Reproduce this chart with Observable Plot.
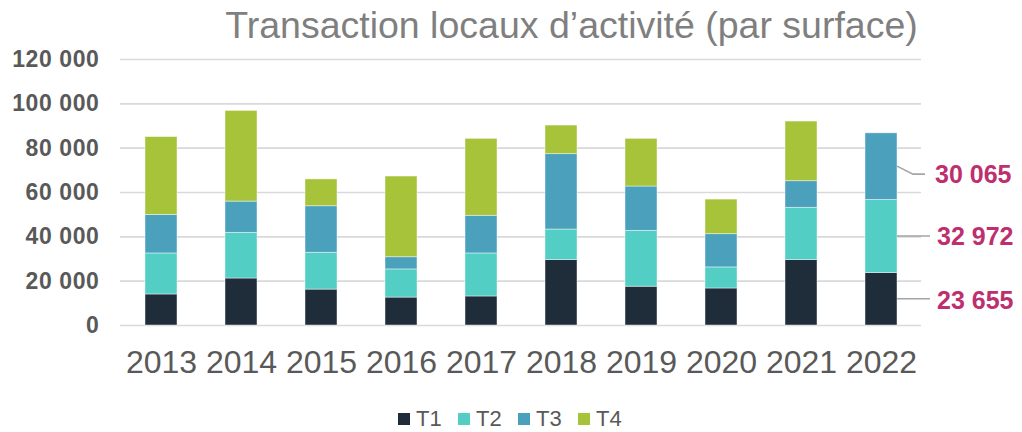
<!DOCTYPE html>
<html>
<head>
<meta charset="utf-8">
<script src="https://cdn.jsdelivr.net/npm/d3@7"></script>
<script src="https://cdn.jsdelivr.net/npm/@observablehq/plot@0.6"></script>
<style>
  html, body { margin: 0; padding: 0; background: #fff; }
  #wrap { position: relative; width: 1022px; height: 432px; overflow: hidden; font-family: "Liberation Sans", Arial, sans-serif; }
  #title { position: absolute; top: 3px; left: 0; width: 1143px; text-align: center; font-size: 37.5px; color: #7f7f7f; line-height: 44px; white-space: nowrap; }
  #chart { position: absolute; top: 44px; left: 0; }
  #legend { position: absolute; top: 406px; left: 0; width: 1022px; height: 26px; }
  .li { position: absolute; top: 0; display: flex; align-items: center; height: 26px; font-size: 22px; color: #595959; }
  .sw { width: 12px; height: 12px; margin-right: 6px; }
</style>
</head>
<body>
<div id="wrap">
  <div id="title">Transaction locaux d’activité (par surface)</div>
  <div id="chart"></div>
  <div id="legend"></div>
</div>
<script>
const years = ["2013","2014","2015","2016","2017","2018","2019","2020","2021","2022"];
const series = ["T1","T2","T3","T4"];
const colors = ["#1f2d3a","#53cec5","#4ba1bb","#a6c33a"];
const T1 = [14000, 21200, 16200, 12600, 13100, 29500, 17500, 16700, 29500, 23655];
const T2 = [18500, 20600, 16600, 12700, 19400, 13800, 25200,  9500, 23600, 32972];
const T3 = [17400, 14100, 21000,  5500, 17000, 34000, 20000, 15000, 12000, 30065];
const T4 = [35100, 40900, 12100, 36400, 34700, 12900, 21500, 15600, 26900,     0];
const yTicks = [0, 20000, 40000, 60000, 80000, 100000, 120000];

const seriesValues = {T1, T2, T3, T4};
const rows = [];
series.forEach(s => years.forEach((y, i) => rows.push({year: y, serie: s, value: seriesValues[s][i]})));

const fmt = d => d3.format(",")(d).replace(/,/g, " ");

const last = years.length - 1;
const mid1 = T1[last] / 2;
const mid2 = T1[last] + T2[last] / 2;
const mid3 = T1[last] + T2[last] + T3[last] / 2;
const annot = [
  {year: years[last], y: mid3, label: fmt(T3[last]), dx: 54, dy: 8},
  {year: years[last], y: mid2, label: fmt(T2[last]), dx: 56, dy: 0},
  {year: years[last], y: mid1, label: fmt(T1[last]), dx: 56, dy: 1}
];

const plot = Plot.plot({
  width: 1022,
  height: 346,
  marginLeft: 120,
  marginRight: 101,
  marginTop: 15,
  marginBottom: 65,
  style: {fontFamily: "'Liberation Sans', Arial, sans-serif", color: "#595959", background: "transparent"},
  x: {domain: years, paddingInner: 0.6, paddingOuter: 0.3, label: null},
  y: {domain: [0, 120000], label: null},
  color: {domain: series, range: colors},
  marks: [
    Plot.gridY(yTicks, {stroke: "#d9d9d9", strokeOpacity: 1, strokeWidth: 1.6}),
    Plot.barY(rows, {x: "year", y: "value", fill: "serie", stroke: "#ffffff", strokeOpacity: 0.55, strokeWidth: 0.8, inset: 0}),
    Plot.axisY(yTicks, {tickSize: 0, tickPadding: 21, tickFormat: fmt, fontSize: 23, fontWeight: "bold", fill: "#595959", label: null}),
    Plot.axisX({tickSize: 0, tickPadding: 25, fontSize: 32, fill: "#595959", label: null}),
    Plot.text(annot, {x: "year", y: "y", text: "label", textAnchor: "start", fontSize: 25, fontWeight: "bold", fill: "#bd2f6e"})
  ]
});

const xs = plot.scale("x"), ys = plot.scale("y");
const bw = xs.bandwidth;
const svg = d3.select(plot);
svg.selectAll("g[aria-label='y-axis tick label'] text").attr("letter-spacing", "0.6");
const textG = svg.selectAll("g[aria-label='text']").attr("transform", null);
textG.selectAll("text").each(function(_, i) {
  const a = annot[i];
  const cx = xs.apply(a.year) + bw / 2;
  d3.select(this).attr("transform", null).attr("x", cx + a.dx).attr("y", ys.apply(a.y) + a.dy).attr("dy", "0.35em");
});
const g = svg.append("g").attr("stroke", "#a5a5a5").attr("stroke-width", 1.6).attr("fill", "none");
annot.forEach((a, i) => {
  const x0 = xs.apply(a.year) + bw;
  const y0 = ys.apply(a.y);
  const pts = i === 0 ? [[x0, y0], [x0 + 16, y0 + a.dy], [x0 + 28, y0 + a.dy]] : [[x0, y0], [x0 + 33, y0]];
  g.append("path").attr("d", d3.line()(pts));
});

document.getElementById("chart").appendChild(plot);

const lg = document.getElementById("legend");
const startX = 398, step = 60;
series.forEach((s, i) => {
  const d = document.createElement("div");
  d.className = "li";
  d.style.left = (startX + i * step) + "px";
  d.innerHTML = `<div class="sw" style="background:${colors[i]}"></div><span>${s}</span>`;
  lg.appendChild(d);
});
</script>
</body>
</html>
